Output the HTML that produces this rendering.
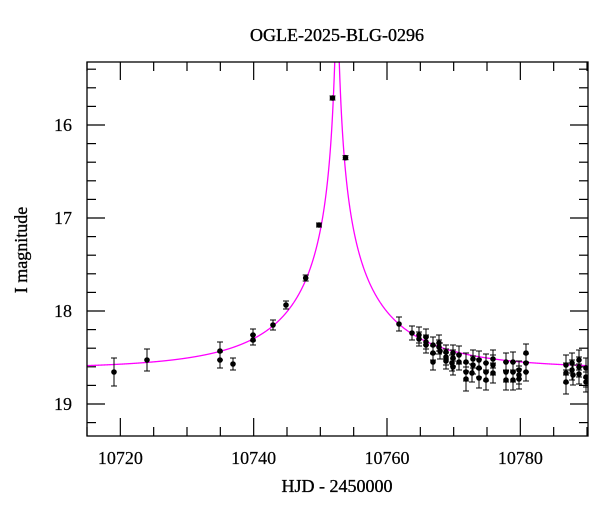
<!DOCTYPE html>
<html><head><meta charset="utf-8"><style>
html,body{margin:0;padding:0;background:#fff;}
svg{display:block;font-family:"Liberation Serif","DejaVu Serif",serif;}
</style></head><body>
<svg id="s" width="600" height="512" xmlns="http://www.w3.org/2000/svg">
<rect width="600" height="512" fill="#fff"/>
<text x="337" y="41" font-size="18" text-anchor="middle" stroke="#000" stroke-width="0.35">OGLE-2025-BLG-0296</text>
<text x="337" y="492" font-size="18" text-anchor="middle" stroke="#000" stroke-width="0.35">HJD - 2450000</text>
<text transform="translate(27,250) rotate(-90)" font-size="18" text-anchor="middle" stroke="#000" stroke-width="0.35">I magnitude</text>
<g id="ax" stroke="#000" stroke-width="1.2" fill="none"></g>
<g id="lbl" font-size="18" text-anchor="middle" stroke="#000" stroke-width="0.2"></g>
<defs><clipPath id="cp"><rect x="87" y="62" width="501" height="374"/></clipPath></defs>
<g clip-path="url(#cp)"><path id="curve" fill="none" stroke="#ff00ff" stroke-width="1.3"/><g id="pts"></g></g>
<rect x="87" y="62" width="501" height="374" fill="none" stroke="#000" stroke-width="1.3"/>
</svg>
<script>
var NS="http://www.w3.org/2000/svg";
function X(t){return 87+(t-10715)*6.6667;}
function Y(m){return 125+(m-16)*93;}
function el(p,n,a,txt){var e=document.createElementNS(NS,n);for(var k in a)e.setAttribute(k,a[k]);if(txt)e.textContent=txt;document.getElementById(p).appendChild(e);}
for(var t=10715;t<=10790;t+=5){var x=X(t),maj=(t%20==0),L=maj?18:9;
el('ax','line',{x1:x,y1:436,x2:x,y2:436-L});el('ax','line',{x1:x,y1:62,x2:x,y2:62+L});
if(maj)el('lbl','text',{x:x,y:464},String(t));}
for(var m=15.4;m<=19.3;m+=0.2){var mm=Math.round(m*10)/10;var y=Y(mm),maj=Math.abs(mm-Math.round(mm))<1e-6,L=maj?18:9;
el('ax','line',{x1:87,y1:y,x2:87+L,y2:y});el('ax','line',{x1:588,y1:y,x2:588-L,y2:y});
if(maj)el('lbl','text',{x:72,y:y+6,'text-anchor':'end'},String(Math.round(mm)));}
var t0=10752.5,tE=20,u0=0.012,fs=0.42,base=18.62,d="";
for(var i=0;i<=3000;i++){var t=10715+75*i/3000;var tau=(t-t0)/tE;var u=Math.sqrt(u0*u0+tau*tau);
var A=(u*u+2)/(u*Math.sqrt(u*u+4));var F=fs*A+1-fs;var mg=base-2.5*Math.log10(F);
d+=(i?"L":"M")+X(t).toFixed(2)+" "+Y(mg).toFixed(2);}
document.getElementById('curve').setAttribute('d',d);
var P=[[114,372,14],[147,360,11],[220,351,9],[220,360,8],[233,364,6],[253,335,6],[253,340,5],[273,325,5],[286,305,4],[305.7,278,3],[319,225,2],[332.5,98,2],[345.5,157.7,2],
[399,324,7],[412,333,7],[419,335,8],[419,339,7],[426,337,8],[426,342,7],[426,345,8],[433,345,8],[433,353,7],[433,362,8],[439,343,8],[439,347,7],[440,351,8],
[446,352,7],[446,357,8],[446,361,8],[453,353,8],[453,358,8],[452,363,8],[453,367,8],[459,355,9],[459,362,8],[466,362,9],[466,372,9],[466,379,12],[473,359,9],[473,365,9],[472,373,9],
[479,360,9],[479,368,9],[479,378,10],[486,363,9],[486,372,9],[486,380,10],[493,359,9],[493,365,10],[493,373,10],[506,362,9],[506,372,10],[506,380,10],[513,362,10],[513,372,10],[513,380,10],
[519,370,9],[519,375,9],[519,379,10],[526,353,9],[526,363,9],[526,372,9],[566,365,10],[566,373,10],[566,382,12],[572,363,10],[572,370,10],[573,375,10],[579,360,10],[579,367,10],[579,374,10],[586,368,10],[586,377,10],[586,382,10]];
P.forEach(function(p){var x=p[0],y=p[1],e=p[2];
el('pts','line',{x1:x,y1:y-e,x2:x,y2:y+e,stroke:'#000','stroke-width':1});
el('pts','line',{x1:x-3,y1:y-e,x2:x+3,y2:y-e,stroke:'#000','stroke-width':1});
el('pts','line',{x1:x-3,y1:y+e,x2:x+3,y2:y+e,stroke:'#000','stroke-width':1});
el('pts','circle',{cx:x,cy:y,r:2.8,fill:'#000'});});
</script>
</body></html>
